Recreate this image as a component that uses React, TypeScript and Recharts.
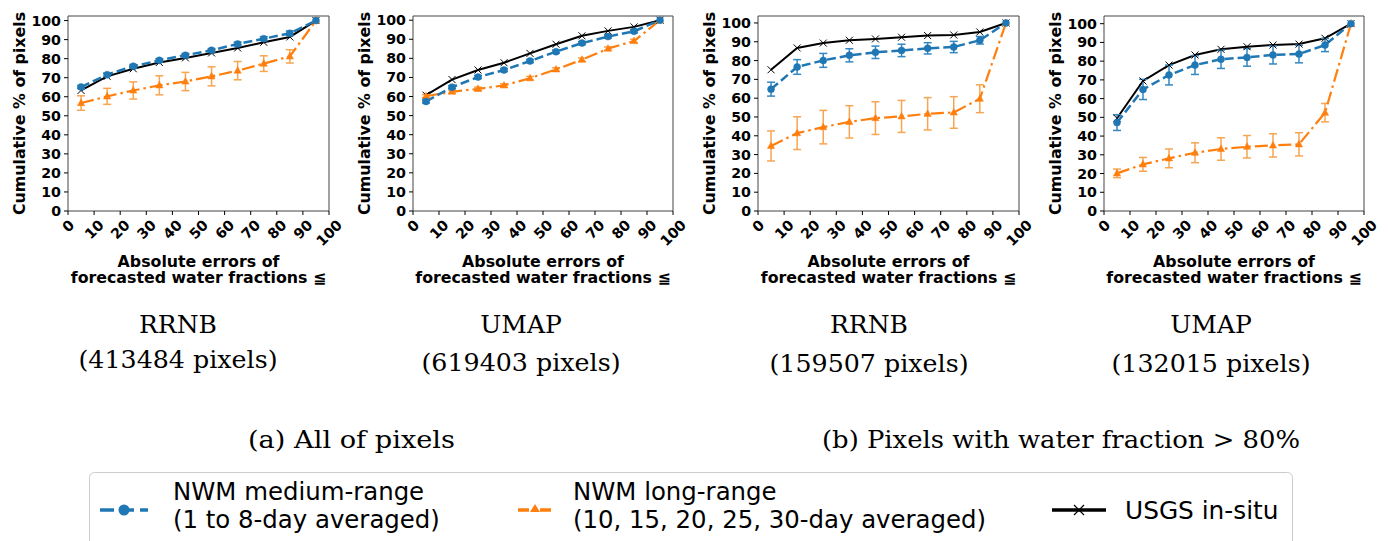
import React from 'react';
import { LineChart, Line, XAxis, YAxis, ErrorBar, ReferenceArea } from 'recharts';

// ---------- data ----------
const xValues = [5, 15, 25, 35, 45, 55, 65, 75, 85, 95];
const xTicks = [0, 10, 20, 30, 40, 50, 60, 70, 80, 90, 100];
const yTicks = [0, 10, 20, 30, 40, 50, 60, 70, 80, 90, 100];

// (a) RRNB, all pixels
const medium1 = [65.1, 71.6, 76.0, 79.1, 81.8, 84.4, 87.7, 90.5, 93.3, 100];
const medium1Err = [0.8, 0.8, 0.9, 0.9, 0.9, 0.9, 1.0, 1.0, 1.2, 0];
const long1 = [56.7, 60.2, 63.3, 66.0, 68.0, 70.7, 73.7, 77.4, 81.2, 100];
const long1Err = [3.8, 4.2, 4.5, 5.0, 4.8, 5.0, 4.8, 4.1, 3.5, 0];
const usgs1 = [63.3, 70.7, 74.7, 78.0, 80.4, 83.0, 85.6, 88.6, 91.4, 100];

// (a) UMAP, all pixels
const medium2 = [57.4, 64.9, 70.2, 73.9, 78.6, 83.5, 88.0, 91.4, 94.2, 100];
const medium2Err = [0.8, 0.8, 0.8, 0.8, 0.8, 0.8, 0.8, 0.8, 0.8, 0];
const long2 = [60.2, 62.5, 64.0, 65.8, 69.6, 74.2, 79.3, 85.1, 89.1, 100];
const long2Err = [0.8, 0.8, 0.9, 0.9, 0.9, 0.9, 0.9, 0.9, 0.9, 0];
const usgs2 = [60.7, 68.9, 73.9, 77.7, 82.6, 87.4, 91.8, 94.4, 96.5, 100];

// (b) RRNB, water fraction > 80%
const medium3 = [64.8, 76.6, 80.1, 82.8, 84.4, 85.4, 86.5, 87.2, 90.8, 100];
const medium3Err = [3.7, 3.9, 3.7, 3.5, 3.3, 3.3, 3.0, 3.0, 2.0, 0];
const long3 = [34.6, 41.4, 44.6, 47.4, 49.4, 50.3, 51.7, 52.4, 59.7, 100];
const long3Err = [8.0, 8.7, 8.9, 8.6, 8.7, 8.5, 8.6, 8.4, 7.4, 0];
const usgs3 = [75.1, 86.7, 89.3, 90.8, 91.5, 92.4, 93.3, 93.6, 95.2, 100];

// (b) UMAP, water fraction > 80%
const medium4 = [47.2, 64.9, 72.6, 77.9, 81.0, 82.0, 83.3, 83.8, 88.6, 100];
const medium4Err = [4.2, 5.4, 5.3, 5.0, 4.9, 4.7, 4.8, 4.7, 3.5, 0];
const long4 = [20.1, 24.9, 28.1, 31.1, 33.1, 34.3, 35.0, 35.6, 52.5, 100];
const long4Err = [2.3, 3.7, 5.0, 5.3, 6.0, 6.0, 6.2, 6.2, 4.9, 0];
const usgs4 = [49.5, 69.4, 77.9, 83.3, 86.3, 87.7, 88.6, 89.1, 92.2, 100];

const regionNames = ['RRNB', 'UMAP', 'RRNB', 'UMAP'];
const pixelCounts = ['(413484 pixels)', '(619403 pixels)', '(159507 pixels)', '(132015 pixels)'];
const groupCaptions = ['(a) All of pixels', '(b) Pixels with water fraction > 80%'];
const legendLabels = [
  ['NWM medium-range', '(1 to 8-day averaged)'],
  ['NWM long-range', '(10, 15, 20, 25, 30-day averaged)'],
  ['USGS in-situ'],
];

// ---------- style ----------
const SANS = "'DejaVu Sans', sans-serif";
const SERIF = "'DejaVu Serif', serif";
const BLUE = '#1f77b4';
const ORANGE = '#ff7f0e';
const BLUE_ERR = '#3587c0';
const ORANGE_ERR = '#f7a552';
const TICK_FS = 14.2;

const buildRows = (m: number[], mE: number[], l: number[], lE: number[], u: number[]) =>
  xValues.map((x, i) => ({ x, medium: m[i], mediumErr: mE[i], long: l[i], longErr: lE[i], usgs: u[i] }));

const XTick = (props: any) => {
  const { x, y, payload } = props;
  const s = String(payload.value);
  const fs = TICK_FS;
  const w = s.length * 0.696 * fs;
  const h = 15.5;
  const cy = y + 2 + (w + h) * 0.3535;
  return (
    <g transform={`translate(${x},${cy}) rotate(-45)`}>
      <text textAnchor="middle" dy="0.36em" fontFamily={SANS} fontWeight="bold" fontSize={fs} fill="#000">
        {s}
      </text>
    </g>
  );
};

const XMark = (p: any) => {
  const { cx, cy, index } = p;
  if (cx == null || cy == null) return null;
  const s = 3.5;
  return (
    <path
      key={`x${index}`}
      d={`M${cx - s},${cy - s}L${cx + s},${cy + s}M${cx - s},${cy + s}L${cx + s},${cy - s}`}
      stroke="#000"
      strokeWidth={1}
      fill="none"
    />
  );
};

const TriMark = (p: any) => {
  const { cx, cy, index } = p;
  if (cx == null || cy == null) return null;
  return (
    <polygon
      key={`t${index}`}
      points={`${cx},${cy - 4} ${cx - 3.6},${cy + 2.6} ${cx + 3.6},${cy + 2.6}`}
      fill={ORANGE}
      stroke={ORANGE}
      strokeWidth={0.5}
    />
  );
};

type PanelProps = {
  left: number;
  plotW: number;
  yTop: number;
  rows: any[];
};

const PLOT_LEFT = 60;
const PLOT_TOP = 16;
const PLOT_BOTTOM = 211;
const RIGHT_PAD = 30;

const Panel = ({ left, plotW, yTop, rows }: PanelProps) => {
  const width = PLOT_LEFT + plotW + RIGHT_PAD;
  const cxLabel = PLOT_LEFT + plotW / 2;
  return (
    <div style={{ position: 'absolute', left, top: 0 }}>
      <LineChart
        width={width}
        height={300}
        data={rows}
        margin={{ top: PLOT_TOP, right: RIGHT_PAD, bottom: 49, left: 0 }}
      >
        <XAxis
          type="number"
          dataKey="x"
          domain={[0, 100]}
          ticks={xTicks}
          interval={0}
          allowDataOverflow
          height={40}
          axisLine={false}
          tickSize={4}
          tickMargin={0}
          tickLine={{ stroke: '#000' }}
          tick={<XTick />}
          label={{
            content: () => (
              <text fontFamily={SANS} fontWeight="bold" fontSize={15.8} fill="#000" textAnchor="middle">
                <tspan x={cxLabel} y={266.7}>Absolute errors of</tspan>
                <tspan x={cxLabel} y={283}>forecasted water fractions ≦</tspan>
              </text>
            ),
          }}
        />
        <YAxis
          type="number"
          domain={[0, yTop]}
          ticks={yTicks}
          interval={0}
          allowDataOverflow
          width={PLOT_LEFT}
          axisLine={false}
          tickSize={4}
          tickMargin={3}
          tickLine={{ stroke: '#000' }}
          tick={{ fontFamily: SANS, fontWeight: 'bold', fontSize: TICK_FS, fill: '#000' }}
          label={{
            content: () => (
              <text
                transform={`translate(${PLOT_LEFT - 49},${(PLOT_TOP + PLOT_BOTTOM) / 2}) rotate(-90)`}
                textAnchor="middle"
                dy="0.36em"
                fontFamily={SANS}
                fontWeight="bold"
                fontSize={15.8}
                fill="#000"
              >
                Cumulative % of pixels
              </text>
            ),
          }}
        />
        <ReferenceArea x1={0} x2={100} y1={0} y2={yTop} fill="none" stroke="#444" strokeWidth={1} />
        <Line
          dataKey="usgs"
          stroke="#000"
          strokeWidth={2}
          dot={XMark}
          activeDot={false}
          isAnimationActive={false}
        />
        <Line
          dataKey="long"
          stroke={ORANGE}
          strokeWidth={2.2}
          strokeDasharray="13 4 2.5 4"
          dot={TriMark}
          activeDot={false}
          isAnimationActive={false}
        >
          <ErrorBar dataKey="longErr" width={4} stroke={ORANGE_ERR} strokeWidth={1.5} isAnimationActive={false} />
        </Line>
        <Line
          dataKey="medium"
          stroke={BLUE}
          strokeWidth={2.5}
          strokeDasharray="9 4"
          dot={{ r: 3.5, fill: BLUE, stroke: BLUE, strokeWidth: 0.5, strokeDasharray: '' }}
          activeDot={false}
          isAnimationActive={false}
        >
          <ErrorBar dataKey="mediumErr" width={4} stroke={BLUE_ERR} strokeWidth={1.5} isAnimationActive={false} />
        </Line>
      </LineChart>
    </div>
  );
};

const panels = [
  { left: 8, plotW: 261, yTop: 102.4, rows: buildRows(medium1, medium1Err, long1, long1Err, usgs1) },
  { left: 353, plotW: 260, yTop: 102.2, rows: buildRows(medium2, medium2Err, long2, long2Err, usgs2) },
  { left: 698, plotW: 261, yTop: 103.7, rows: buildRows(medium3, medium3Err, long3, long3Err, usgs3) },
  { left: 1044, plotW: 260, yTop: 104.1, rows: buildRows(medium4, medium4Err, long4, long4Err, usgs4) },
];

const captionX = [178, 521, 869, 1211];
const captionY2 = [368, 371, 372, 372];

export default function App() {
  return (
    <div
      style={{
        position: 'absolute',
        left: 0,
        top: 0,
        width: 1389,
        height: 541,
        background: '#fff',
        overflow: 'hidden',
      }}
    >
      <svg width={1389} height={541} style={{ position: 'absolute', left: 0, top: 0 }}>
        {regionNames.map((n, i) => (
          <text key={`r${i}`} x={captionX[i]} y={333} textAnchor="middle" fontFamily={SERIF} fontSize={25} fill="#000">
            {n}
          </text>
        ))}
        {pixelCounts.map((n, i) => (
          <text
            key={`p${i}`}
            x={captionX[i]}
            y={captionY2[i]}
            textAnchor="middle"
            fontFamily={SERIF}
            fontSize={25}
            fill="#000"
            textLength={199}
            lengthAdjust="spacingAndGlyphs"
          >
            {n}
          </text>
        ))}
        <text x={351.5} y={448} textAnchor="middle" fontFamily={SERIF} fontSize={25} fill="#000" textLength={207} lengthAdjust="spacingAndGlyphs">
          {groupCaptions[0]}
        </text>
        <text x={1061} y={448} textAnchor="middle" fontFamily={SERIF} fontSize={25} fill="#000" textLength={478} lengthAdjust="spacingAndGlyphs">
          {groupCaptions[1]}
        </text>

        {/* legend */}
        <rect x={89.5} y={472.5} width={1203} height={80} rx={5} fill="#fff" stroke="#cccccc" strokeWidth={1} />
        <line x1={100} y1={510} x2={148} y2={510} stroke={BLUE} strokeWidth={3.5} strokeDasharray="14 6" />
        <circle cx={124} cy={510} r={5.5} fill={BLUE} />
        <line x1={518} y1={510} x2={552} y2={510} stroke={ORANGE} strokeWidth={3.5} strokeDasharray="11 4 3 4" />
        <polygon points="535,504 530,512 540,512" fill={ORANGE} />
        <line x1={1052} y1={510} x2={1106} y2={510} stroke="#000" strokeWidth={3.5} />
        <path d="M1074,505L1084,515M1074,515L1084,505" stroke="#000" strokeWidth={1.2} />
        <text fontFamily={SANS} fontSize={24.4} fill="#000">
          <tspan x={173} y={500}>{legendLabels[0][0]}</tspan>
          <tspan x={173} y={528}>{legendLabels[0][1]}</tspan>
        </text>
        <text fontFamily={SANS} fontSize={24.4} fill="#000">
          <tspan x={573} y={500}>{legendLabels[1][0]}</tspan>
          <tspan x={573} y={528}>{legendLabels[1][1]}</tspan>
        </text>
        <text x={1125} y={519} fontFamily={SANS} fontSize={24.8} fill="#000">
          {legendLabels[2][0]}
        </text>
      </svg>
      {panels.map((p, i) => (
        <Panel key={i} left={p.left} plotW={p.plotW} yTop={p.yTop} rows={p.rows} />
      ))}
    </div>
  );
}
